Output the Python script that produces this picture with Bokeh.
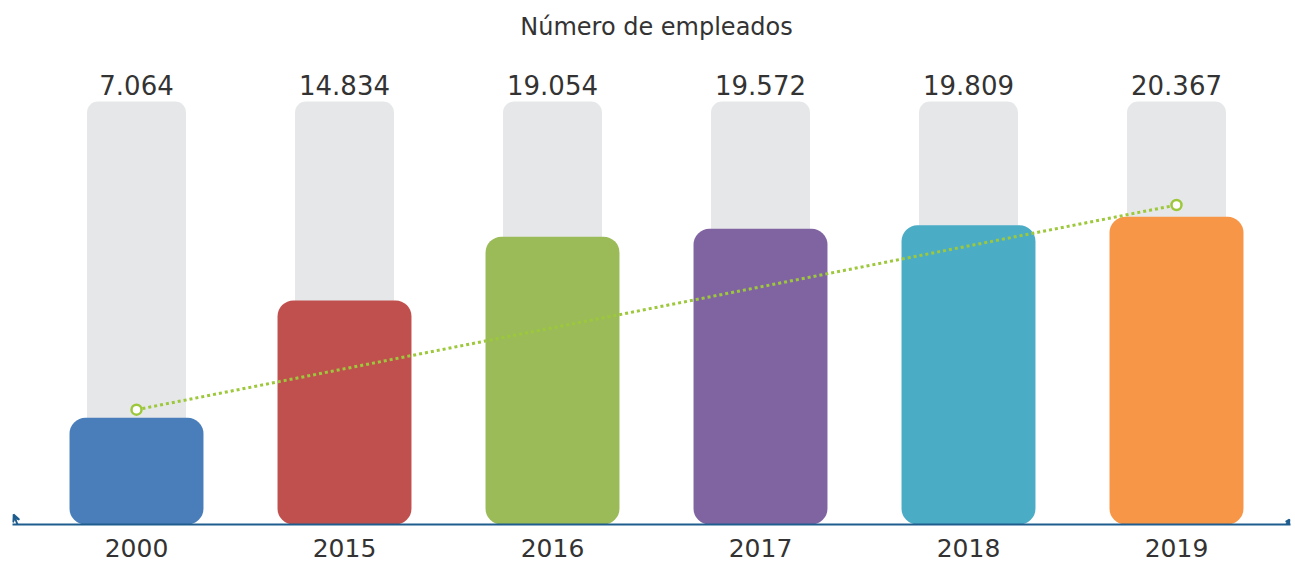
from bokeh.plotting import figure
from bokeh.models import Range1d, ColumnDataSource, FixedTicker, Label, Arrow, VeeHead
from bokeh.embed import file_html
from bokeh.resources import INLINE
from bokeh.core.properties import value

years = ["2000", "2015", "2016", "2017", "2018", "2019"]
employees = [7064, 14834, 19054, 19572, 19809, 20367]
labels = ["7.064", "14.834", "19.054", "19.572", "19.809", "20.367"]
colors = ["#4a7ebb", "#c0504d", "#9bbb59", "#8064a2", "#4bacc6", "#f79646"]
backdrop = 28000
trend_values = [7600, 21150]

FONT = "DejaVu Sans"
TXT = "#333333"

# layout constants (pixels)
W, H = 1295, 563
left_b, right_b, bottom_b = 12, 5, 39
frame_w = W - left_b - right_b
frame_h = H - bottom_b
step_px = 208.0
first_center_px = 124.0
units_per_px = 66.2

x0 = -first_center_px / step_px
x1 = x0 + frame_w / step_px
y1 = frame_h * units_per_px

idx = list(range(len(years)))
src = ColumnDataSource(dict(x=idx, y=employees, lab=labels, color=colors,
                            back=[backdrop] * len(years)))

p = figure(width=W, height=H, output_backend="svg", toolbar_location=None,
           x_range=Range1d(x0, x1), y_range=Range1d(0, y1),
           min_border_left=left_b, min_border_right=right_b, min_border_top=0,
           min_border_bottom=bottom_b)
p.outline_line_color = None
p.grid.visible = False
p.yaxis.visible = False

p.vbar(x="x", top="back", bottom=0, width=0.476, source=src,
       fill_color="#e6e7e8", line_color=None, border_radius=11)
p.vbar(x="x", top="y", bottom=0, width=0.644, source=src,
       fill_color="color", line_color=None, border_radius=16)

p.text(x="x", y="back", text="lab", source=src, text_align="center",
       text_baseline="middle", y_offset=-17, text_font=value(FONT),
       text_font_size="26px", text_color=TXT)

p.line(x=[idx[0], idx[-1]], y=trend_values, line_color="#9dc83c", line_width=3,
       line_dash="3 3")
p.scatter(x=[idx[0], idx[-1]], y=trend_values, size=10, fill_color="white",
          line_color="#9dc83c", line_width=2.5)

title = Label(x=(idx[0] + idx[-1]) / 2, y=y1 - 26 * units_per_px,
              text="Número de empleados", text_align="center",
              text_baseline="middle", text_font=FONT, text_font_size="24px",
              text_color=TXT)
p.add_layout(title)

axis_col = "#1f5d8e"
p.add_layout(Arrow(x_start=x0 + 5 / step_px, y_start=0,
                   x_end=x0 + 1 / step_px, y_end=10 * units_per_px,
                   line_color=axis_col, line_width=2,
                   end=VeeHead(size=7, line_color=axis_col, line_width=2)))
p.add_layout(Arrow(x_start=x1 - 4 / step_px, y_start=0,
                   x_end=x1 - 1 / step_px, y_end=5 * units_per_px,
                   line_color=axis_col, line_width=2,
                   end=VeeHead(size=4, line_color=axis_col, line_width=2)))

ax = p.xaxis[0]
ax.ticker = FixedTicker(ticks=idx)
ax.major_label_overrides = {i: y for i, y in zip(idx, years)}
ax.major_tick_line_color = None
ax.minor_tick_line_color = None
ax.axis_line_color = axis_col
ax.axis_line_width = 2
ax.major_label_text_font = FONT
ax.major_label_text_font_size = "25px"
ax.major_label_text_color = TXT
ax.major_label_standoff = 8

open("out.html", "w").write(file_html(p, INLINE))
